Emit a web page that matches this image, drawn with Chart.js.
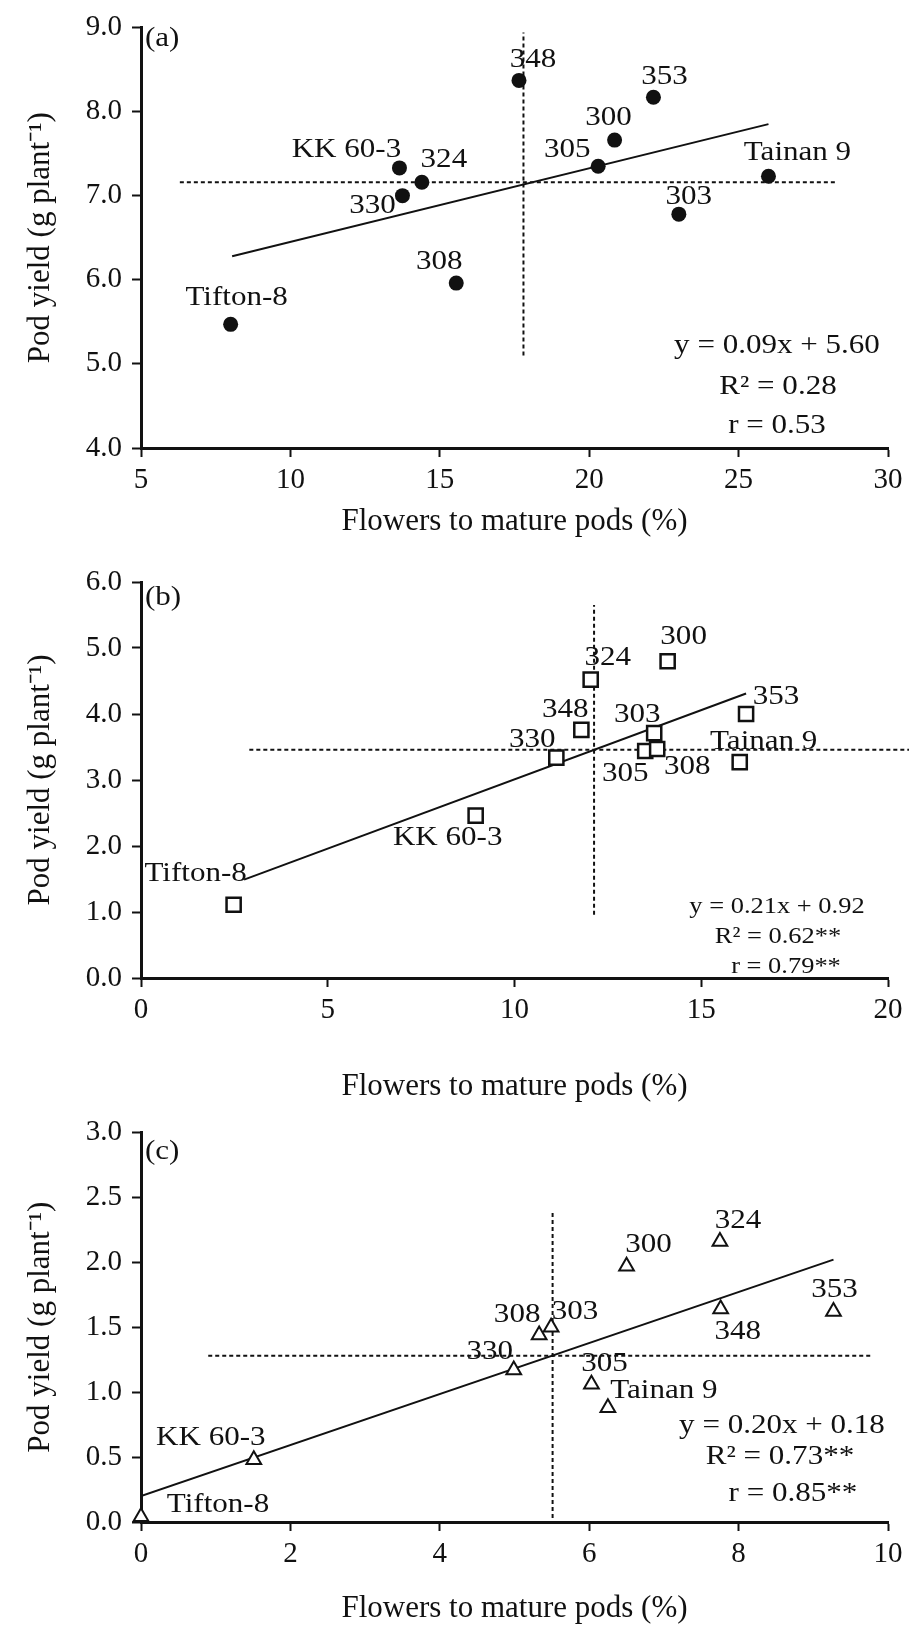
<!DOCTYPE html>
<html>
<head>
<meta charset="utf-8">
<script src="https://cdn.jsdelivr.net/npm/chart.js@4.4.0/dist/chart.umd.min.js"></script>
<style>
  html, body { margin: 0; padding: 0; background: #fff; }
  #wrap { position: relative; width: 909px; height: 1644px; overflow: hidden; }
  .panel { position: absolute; left: 0; width: 909px; }
</style>
</head>
<body>
<div id="wrap">
  <div class="panel" style="top:0px"><canvas id="chartA" width="909" height="540"></canvas></div>
  <div class="panel" style="top:540px"><canvas id="chartB" width="909" height="565"></canvas></div>
  <div class="panel" style="top:1105px"><canvas id="chartC" width="909" height="539"></canvas></div>
</div>
<script>
// genotypes, same order in every panel
const genotypes = ['300', '303', '305', '308', '324', '330', '348', '353', 'Tainan 9', 'KK 60-3', 'Tifton-8'];

// (a)
const aFlowersToPods = [20.85, 23.0, 20.3, 15.55, 14.4, 13.75, 17.65, 22.15, 26.0, 13.65, 8.0];
const aPodYield = [7.66, 6.78, 7.35, 5.96, 7.16, 7.0, 8.37, 8.17, 7.23, 7.33, 5.47];
const aFitX = [8.05, 26.0];
const aFitY = [6.28, 7.85];
const aMeanX = 17.8;
const aMeanY = 7.16;
const aStats = ['y = 0.09x + 5.60', 'R² = 0.28', 'r = 0.53'];
const aXTicks = [5, 10, 15, 20, 25, 30];
const aYTicks = [4, 5, 6, 7, 8, 9];

// (b)
const bFlowersToPods = [14.1, 13.74, 13.5, 13.82, 12.04, 11.12, 11.79, 16.2, 16.03, 8.96, 2.48];
const bPodYield = [4.8, 3.71, 3.44, 3.47, 4.52, 3.34, 3.76, 4.0, 3.27, 2.46, 1.11];
const bFitX = [2.76, 16.2];
const bFitY = [1.49, 4.31];
const bMeanX = 12.13;
const bMeanY = 3.46;
const bStats = ['y = 0.21x + 0.92', 'R² = 0.62**', 'r = 0.79**'];
const bXTicks = [0, 5, 10, 15, 20];
const bYTicks = [0, 1, 2, 3, 4, 5, 6];

// (c)
const cFlowersToPods = [6.5, 5.49, 6.03, 5.33, 7.75, 4.99, 7.76, 9.27, 6.25, 1.51, 0.0];
const cPodYield = [1.97, 1.5, 1.06, 1.44, 2.16, 1.17, 1.64, 1.62, 0.88, 0.48, 0.04];
const cFitX = [0, 9.27];
const cFitY = [0.2, 2.02];
const cMeanX = 5.51;
const cMeanY = 1.28;
const cStats = ['y = 0.20x + 0.18', 'R² = 0.73**', 'r = 0.85**'];
const cXTicks = [0, 2, 4, 6, 8, 10];
const cYTicks = [0, 0.5, 1, 1.5, 2, 2.5, 3];

const SERIF = "'Liberation Serif', 'Times New Roman', serif";
const INK = '#111111';
const WIDEN = 1.15; // the figure's lettering is set a little wide

function pairs(xs, ys) {
    return xs.map((x, i) => ({ x: x, y: ys[i] }));
}

function wideText(ctx, text, x, y) {
    ctx.save();
    ctx.translate(x, y);
    ctx.scale(WIDEN, 1);
    ctx.fillText(text, 0, 0);
    ctx.restore();
}

// draws genotype names, regression stats and the panel letter
function panelText(cfg) {
    return {
        id: 'panelText',
        afterDatasetsDraw(chart) {
            const ctx = chart.ctx;
            const xs = chart.scales.x;
            const ys = chart.scales.y;
            ctx.save();
            ctx.fillStyle = INK;
            ctx.textBaseline = 'middle';
            ctx.textAlign = 'center';
            ctx.font = '27px ' + SERIF;
            genotypes.forEach((name, i) => {
                const off = cfg.offsets[i];
                wideText(ctx, name, xs.getPixelForValue(cfg.x[i]) + off[0], ys.getPixelForValue(cfg.y[i]) + off[1]);
            });
            ctx.font = cfg.statSize + 'px ' + SERIF;
            cfg.stats.forEach((t, i) => {
                wideText(ctx, t, cfg.statPos[i][0], cfg.statPos[i][1]);
            });
            ctx.textAlign = 'left';
            ctx.font = '27px ' + SERIF;
            wideText(ctx, cfg.letter, cfg.letterPos[0], cfg.letterPos[1]);
            ctx.restore();
        }
    };
}

function makePanel(id, p) {
    const height = document.getElementById(id).height;
    return new Chart(document.getElementById(id), {
        type: 'scatter',
        data: {
            datasets: [
                {
                    data: pairs(p.x, p.y),
                    pointStyle: p.marker,
                    pointRadius: p.radius,
                    pointHoverRadius: p.radius,
                    pointBackgroundColor: p.fill,
                    pointBorderColor: INK,
                    pointBorderWidth: p.markerBorder,
                    clip: false
                },
                {
                    data: pairs(p.fitX, p.fitY),
                    showLine: true,
                    borderColor: INK,
                    borderWidth: 2,
                    pointRadius: 0
                },
                {
                    data: [{ x: p.hLine[0], y: p.meanY }, { x: p.hLine[1], y: p.meanY }],
                    showLine: true,
                    borderColor: INK,
                    borderWidth: 2,
                    borderDash: [4, 3],
                    pointRadius: 0,
                    clip: false
                },
                {
                    data: [{ x: p.meanX, y: p.vLine[0] }, { x: p.meanX, y: p.vLine[1] }],
                    showLine: true,
                    borderColor: INK,
                    borderWidth: 2,
                    borderDash: [4, 3],
                    pointRadius: 0
                }
            ]
        },
        options: {
            responsive: false,
            animation: false,
            devicePixelRatio: 1,
            layout: {
                padding: { top: p.top, right: 21, left: 0, bottom: 0 }
            },
            plugins: {
                legend: { display: false },
                tooltip: { enabled: false }
            },
            scales: {
                x: {
                    type: 'linear',
                    min: p.xTicks[0],
                    max: p.xTicks[p.xTicks.length - 1],
                    afterBuildTicks: (s) => { s.ticks = p.xTicks.map(v => ({ value: v })); },
                    afterFit: (s) => { s.height = height - p.bottom; },
                    border: { display: true, color: INK, width: 3 },
                    grid: { drawOnChartArea: false, drawTicks: true, tickLength: 9, tickWidth: 2, tickColor: INK },
                    ticks: {
                        color: INK,
                        padding: 6,
                        font: { family: SERIF, size: 29 },
                        callback: (v) => String(v)
                    },
                    title: {
                        display: true,
                        text: 'Flowers to mature pods (%)',
                        color: INK,
                        font: { family: SERIF, size: 31 },
                        padding: { top: 0, bottom: p.titlePad }
                    }
                },
                y: {
                    type: 'linear',
                    min: p.yTicks[0],
                    max: p.yTicks[p.yTicks.length - 1],
                    afterBuildTicks: (s) => { s.ticks = p.yTicks.map(v => ({ value: v })); },
                    afterFit: (s) => { s.width = 141; },
                    border: { display: true, color: INK, width: 3 },
                    grid: { drawOnChartArea: false, drawTicks: true, tickLength: 9, tickWidth: 2, tickColor: INK },
                    ticks: {
                        color: INK,
                        padding: 10,
                        font: { family: SERIF, size: 29 },
                        callback: (v) => Number(v).toFixed(1)
                    },
                    title: {
                        display: true,
                        text: 'Pod yield (g plant⁻¹)',
                        color: INK,
                        font: { family: SERIF, size: 31 },
                        padding: { top: 22, bottom: 0 }
                    }
                }
            }
        },
        plugins: [panelText({
            x: p.x, y: p.y, offsets: p.offsets,
            stats: p.stats, statPos: p.statPos, statSize: p.statSize,
            letter: p.letter, letterPos: p.letterPos
        })]
    });
}

makePanel('chartA', {
    x: aFlowersToPods, y: aPodYield, fitX: aFitX, fitY: aFitY,
    meanX: aMeanX, meanY: aMeanY, hLine: [6.3, 28.25], vLine: [5.1, 8.94],
    xTicks: aXTicks, yTicks: aYTicks,
    marker: 'circle', radius: 7.5, fill: INK, markerBorder: 0,
    top: 21, bottom: 448, titlePad: 0,
    stats: aStats, statSize: 27, statPos: [[777, 346], [778, 387], [777, 426]],
    letter: '(a)', letterPos: [145, 39],
    offsets: [[-6, -22], [10, -17], [-31, -16], [-17, -21], [22, -22], [-30, 10], [14, -20], [11, -20], [29, -23], [-53, -18], [6, -26]]
});

makePanel('chartB', {
    x: bFlowersToPods, y: bPodYield, fitX: bFitX, fitY: bFitY,
    meanX: bMeanX, meanY: bMeanY, hLine: [2.9, 20.65], vLine: [0.96, 5.65],
    xTicks: bXTicks, yTicks: bYTicks,
    marker: 'rect', radius: 10, fill: '#ffffff', markerBorder: 2.5,
    top: 42, bottom: 438, titlePad: 0,
    stats: bStats, statSize: 23, statPos: [[777, 367], [778, 397], [786, 427]],
    letter: '(b)', letterPos: [145, 58],
    offsets: [[16, -24], [-17, -18], [-20, 23], [30, 18], [17, -22], [-24, -18], [-16, -20], [30, -17], [24, -20], [-28, 22], [-38, -31]]
});

makePanel('chartC', {
    x: cFlowersToPods, y: cPodYield, fitX: cFitX, fitY: cFitY,
    meanX: cMeanX, meanY: cMeanY, hLine: [0.9, 9.77], vLine: [0.03, 2.38],
    xTicks: cXTicks, yTicks: cYTicks,
    marker: 'triangle', radius: 8.5, fill: '#ffffff', markerBorder: 2,
    top: 25, bottom: 417, titlePad: 17,
    stats: cStats, statSize: 27, statPos: [[782, 321], [780, 352], [793, 389]],
    letter: '(c)', letterPos: [145, 47],
    offsets: [[22, -21], [24, -15], [13, -20], [-22, -20], [18, -21], [-24, -18], [17, 23], [1, -22], [56, -17], [-43, -22], [77, -12]]
});
</script>
</body>
</html>
